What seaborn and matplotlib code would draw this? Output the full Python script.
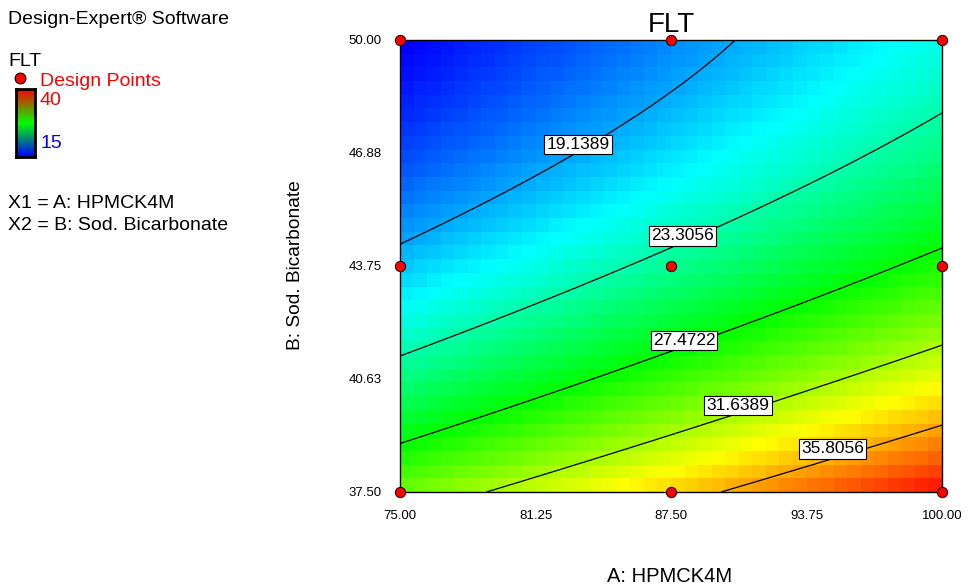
import numpy as np
import pandas as pd
import matplotlib
matplotlib.use("Agg")
import matplotlib.pyplot as plt
from matplotlib.colors import LinearSegmentedColormap
import seaborn as sns

# quadratic response model for FLT, coded units (a, b in -1..1)
coef_b0 = 23.96
coef_a = 4.16
coef_b = -8.30
coef_ab = -0.678
coef_aa = 0.05
coef_bb = 2.65

a_range = [75.0, 100.0]
b_range = [37.5, 50.0]
x_ticks = [75.0, 81.25, 87.5, 93.75, 100.0]
x_ticklabels = ["75.00", "81.25", "87.50", "93.75", "100.00"]
y_ticks = [37.5, 40.63, 43.75, 46.88, 50.0]
y_ticklabels = ["37.50", "40.63", "43.75", "46.88", "50.00"]

levels = [19.1389, 23.3056, 27.4722, 31.6389, 35.8056]
label_a = [83.21, 88.05, 88.10, 90.59, 94.97]
label_b = [47.10, 44.58, 41.70, 39.90, 38.69]

design_a = [75.0, 87.5, 100.0, 75.0, 87.5, 100.0, 75.0, 87.5, 100.0]
design_b = [37.5, 37.5, 37.5, 43.75, 43.75, 43.75, 50.0, 50.0, 50.0]

flt_min, flt_max = 14.972, 39.972


def flt(A, B):
    a = (A - 87.5) / 12.5
    b = (B - 43.75) / 6.25
    return (coef_b0 + coef_a * a + coef_b * b + coef_ab * a * b
            + coef_aa * a ** 2 + coef_bb * b ** 2)


sns.set_style("white")
plt.rcParams['font.family'] = ['Liberation Sans', 'DejaVu Sans']
plt.rcParams['text.color'] = 'black'
plt.rcParams['axes.labelcolor'] = 'black'
plt.rcParams['xtick.labelcolor'] = 'black'
plt.rcParams['ytick.labelcolor'] = 'black'

fig = plt.figure(figsize=(9.68, 5.85), dpi=100)
W, H = 968, 585
ax = fig.add_axes([400 / W, 1 - 492 / H, 542 / W, 452 / H])

cmap = LinearSegmentedColormap.from_list(
    "de", ["#0000ff", "#00ffff", "#00ff00", "#ffff00", "#ff0000"])

# blocky surface like the original rendering
xe = np.linspace(a_range[0], a_range[1], 41)
ye = np.linspace(b_range[0], b_range[1], 34)
xc = (xe[:-1] + xe[1:]) / 2
yc = (ye[:-1] + ye[1:]) / 2
XC, YC = np.meshgrid(xc, yc)
ax.pcolormesh(xe, ye, flt(XC, YC), cmap=cmap, vmin=flt_min, vmax=flt_max,
              shading="flat")

xf = np.linspace(a_range[0], a_range[1], 300)
yf = np.linspace(b_range[0], b_range[1], 300)
XF, YF = np.meshgrid(xf, yf)
cs = ax.contour(XF, YF, flt(XF, YF), levels=levels, colors="black",
                linewidths=0.9)
labels = ax.clabel(cs, fmt="%.4f", inline=False, fontsize=12.5,
                   manual=list(zip(label_a, label_b)))
for t in labels:
    t.set_rotation(0)
    t.set_bbox(dict(facecolor="white", edgecolor="black", pad=1.5,
                    linewidth=0.8))
# put each label box where the original has it
for t, xa, yb in zip(labels, label_a, label_b):
    t.set_position((xa, yb))

pts = pd.DataFrame({"A": design_a, "B": design_b})
sns.scatterplot(data=pts, x="A", y="B", ax=ax, color="red", edgecolor="black",
                linewidth=0.7, s=55, zorder=5, clip_on=False, legend=False)

ax.set_xlim(a_range)
ax.set_ylim(b_range)
ax.set_xticks(x_ticks)
ax.set_xticklabels(x_ticklabels)
ax.set_yticks(y_ticks)
ax.set_yticklabels(y_ticklabels)
ax.tick_params(direction="out", length=9, width=1.2, color="#808080",
               labelsize=9.5, pad=4)
for sp in ax.spines.values():
    sp.set_color("black")
    sp.set_linewidth(1.0)
ax.set_xlabel("")
ax.set_ylabel("")
ax.set_title("FLT", fontsize=20, pad=6)

fig.text(670 / W, 1 - 577 / H, "A: HPMCK4M", fontsize=14.5,
         ha="center", va="center")
fig.text(296 / W, 1 - 265 / H, "B: Sod. Bicarbonate", fontsize=13.8,
         ha="center", va="center", rotation=90)

# left info panel
fs = 14
fig.text(8 / W, 1 - 19 / H, "Design-Expert\u00ae Software", fontsize=fs,
         va="center")
fig.text(8 / W, 1 - 62 / H, "FLT", fontsize=fs, va="center")
fig.text(40 / W, 1 - 82 / H, "Design Points", fontsize=fs, va="center",
         color="red")
fig.text(40 / W, 1 - 100 / H, "40", fontsize=fs, va="center", color="red")
fig.text(40 / W, 1 - 143 / H, "15", fontsize=fs, va="center", color="blue")
fig.text(8 / W, 1 - 203 / H, "X1 = A: HPMCK4M", fontsize=fs, va="center")
fig.text(8 / W, 1 - 225 / H, "X2 = B: Sod. Bicarbonate", fontsize=fs,
         va="center")

dot_ax = fig.add_axes([10 / W, 1 - 86 / H, 20 / W, 16 / H])
dot_ax.scatter([0], [0], s=60, color="red", edgecolor="black", linewidth=0.8)
dot_ax.set_axis_off()

cb_ax = fig.add_axes([16 / W, 1 - 157 / H, 19 / W, 68 / H])
legend_cmap = LinearSegmentedColormap.from_list(
    "leg", ["#0000ff", "#00ff00", "#ff0000"])
cb_ax.imshow(np.linspace(1, 0, 64).reshape(-1, 1), cmap=legend_cmap,
             aspect="auto")
cb_ax.set_xticks([])
cb_ax.set_yticks([])
for sp in cb_ax.spines.values():
    sp.set_color("black")
    sp.set_linewidth(2.0)

fig.savefig("out.png", dpi=100)
